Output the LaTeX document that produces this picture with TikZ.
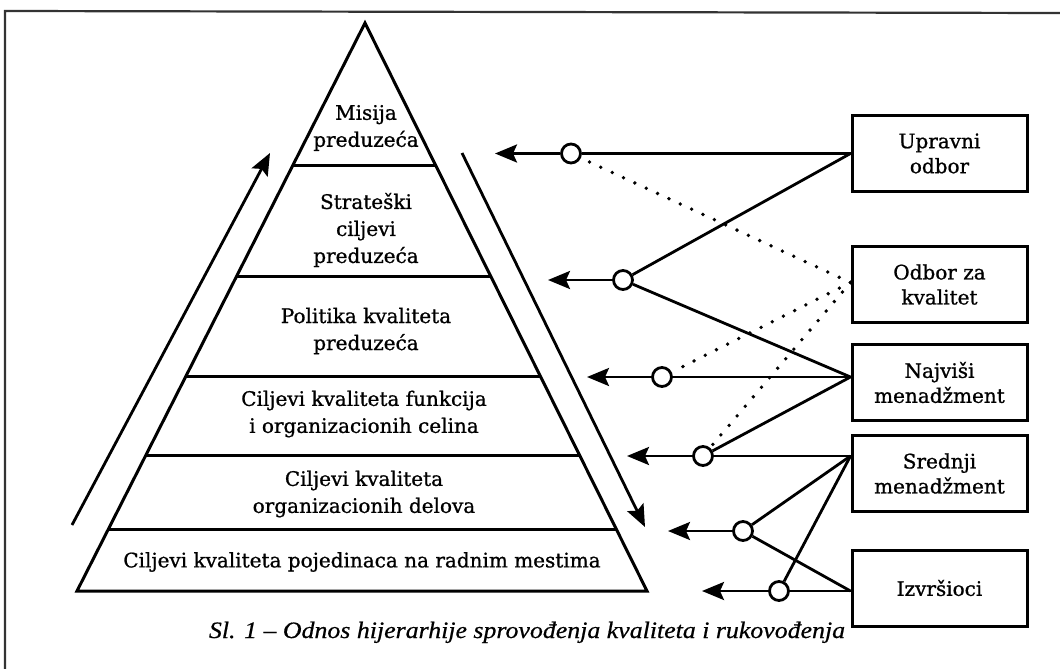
\documentclass[tikz,border=0pt]{standalone}
\usepackage{fontspec}
\setmainfont{DejaVu Serif}[FakeBold=0.9]
\newfontfamily\capfont{Liberation Serif}[FakeStretch=1.1,FakeBold=0.6]
\usetikzlibrary{arrows.meta,calc}
\newcommand\lvlfont{\fontsize{20}{27}\selectfont}
\newcommand\boxfont{\fontsize{20}{25}\selectfont}
\begin{document}
\begin{tikzpicture}[x=1pt,y=-1pt,
  edge/.style={line width=3pt},
  conn/.style={line width=2.8pt},
  tipped/.style={conn,-{Stealth[length=22pt,width=18pt,inset=4pt]}},
  dots/.style={line width=3.8pt,line cap=round,dash pattern=on 0pt off 12.5pt},
  hub/.style={circle,draw,line width=2.8pt,minimum size=19pt,inner sep=0pt},
  box/.style={draw,line width=3pt,minimum width=175pt,minimum height=76pt,align=center,font=\boxfont,inner sep=2pt},
  lvl/.style={align=center,font=\lvlfont,inner sep=0pt},
  frame/.style={line width=2.2pt,black!80}]
\useasboundingbox (0,0) rectangle (1060,669);
% frame
\draw[frame] (5,669) -- (5,11) -- (1060,13);
% pyramid
\coordinate (apex) at (365,23);
\coordinate (bl) at (77,591);
\coordinate (br) at (647,591);
\draw[edge,line join=miter] (apex) -- (bl) -- (br) -- cycle;
\foreach \f in {143,254,353,432,507}
  \draw[edge] ($(apex)!\f/568!(bl)$) -- ($(apex)!\f/568!(br)$);
\node[lvl] (l1) at (366,128) {Misija\\preduzeća};
\node[lvl] (l2) at (366,230) {Strateški\\ciljevi\\preduzeća};
\node[lvl] (l3) at (366,331) {Politika kvaliteta\\preduzeća};
\node[lvl] (l4) at (364,414) {Ciljevi kvaliteta funkcija\\i organizacionih celina};
\node[lvl] (l5) at (364,494) {Ciljevi kvaliteta\\organizacionih delova};
\node[lvl] (l6) at (362,562) {Ciljevi kvaliteta pojedinaca na radnim mestima};
% side arrows
\coordinate (la0) at (72,525);
\coordinate (la1) at (270,153);
\draw[tipped] (la0) -- (la1);
\coordinate (ra0) at (462,153);
\coordinate (ra1) at (645,527);
\draw[tipped] (ra0) -- (ra1);
% boxes
\node[box] (upr) at (939.5,153.5) {Upravni\\odbor};
\node[box] (odb) at (939.5,284.5) {Odbor za\\kvalitet};
\node[box] (naj) at (939.5,382.5) {Najviši\\menadžment};
\node[box] (sre) at (939.5,473.5) {Srednji\\menadžment};
\node[box] (izv) at (939.5,588) {Izvršioci};
% junction points on the boxes
\coordinate (pU) at (upr.west);
\coordinate (pO) at ($(odb.west)+(0,-2)$);
\coordinate (pN) at ($(naj.west)+(0,-5.5)$);
\coordinate (pS) at ($(sre.west)+(0,-17.5)$);
\coordinate (pI) at ($(izv.west)+(0,3)$);
% hubs
\node[hub] (c1) at (571,153.5) {};
\node[hub] (c2) at (623,280) {};
\node[hub] (c3) at (662,377) {};
\node[hub] (c4) at (703,456) {};
\node[hub] (c5) at (743,531) {};
\node[hub] (c6) at (779,591) {};
% arrow tips
\coordinate (t1) at (495,153.5);
\coordinate (t2) at (548,280);
\coordinate (t3) at (587,377);
\coordinate (t4) at (627,456);
\coordinate (t5) at (668,531);
\coordinate (t6) at (702,591);
\foreach \i in {1,...,6} \draw[tipped] (c\i) -- (t\i);
% solid connectors
\draw[conn] (pU) -- (c1);
\draw[conn] (pU) -- (c2);
\draw[conn] (pN) -- (c2);
\draw[conn] (pN) -- (c3);
\draw[conn] (pN) -- (c4);
\draw[conn] (pS) -- (c4);
\draw[conn] (pS) -- (c5);
\draw[conn] (pS) -- (c6);
\draw[conn] (pI) -- (c5);
\draw[conn] (pI) -- (c6);
% dotted connectors
\draw[dots] (pO) -- (c1);
\draw[dots] (pO) -- (c3);
\draw[dots] (pO) -- (c4);
% caption
\node[anchor=base,font=\capfont\itshape\fontsize{23.5}{28}\selectfont] (cap) at (527,638) {Sl. 1 – Odnos hijerarhije sprovođenja kvaliteta i rukovođenja};
\end{tikzpicture}
\end{document}
